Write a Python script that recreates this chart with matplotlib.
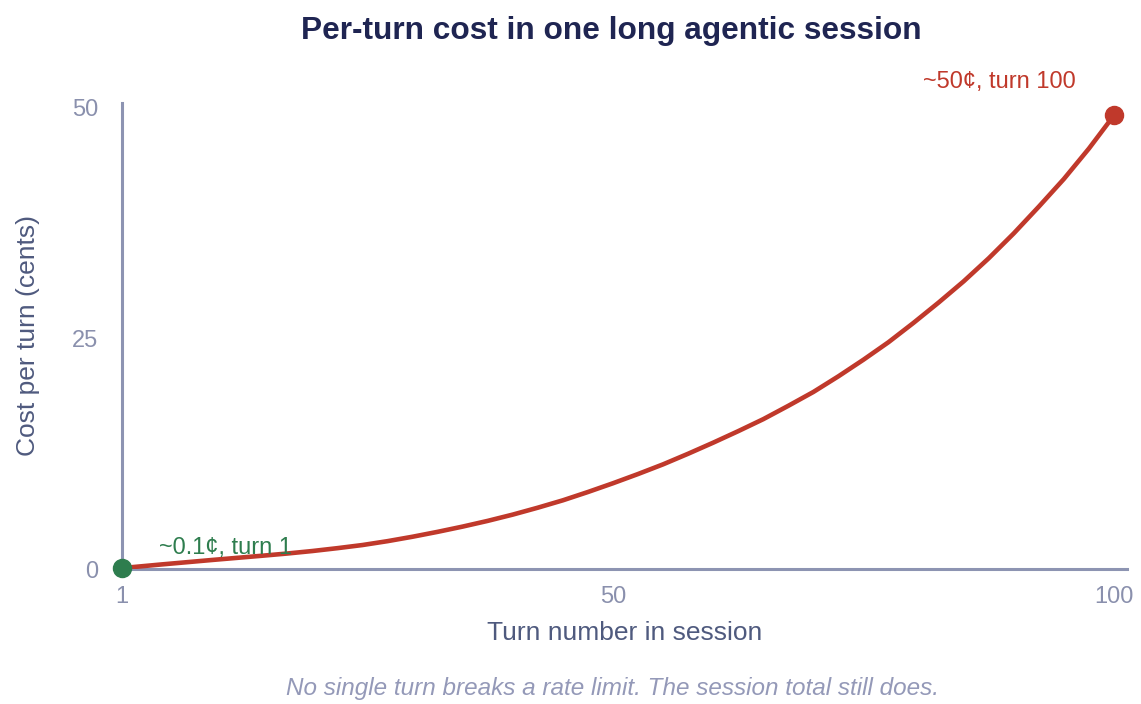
import matplotlib
matplotlib.use('Agg')
import matplotlib.pyplot as plt

plt.rcParams['font.family'] = ['Liberation Sans', 'DejaVu Sans']

# cost per turn in cents
turns = [1, 2.5, 5, 7.5, 10, 12.5, 15, 17.5, 20, 22.5, 25, 27.5, 30, 32.5, 35, 37.5, 40,
         42.5, 45, 47.5, 50, 52.5, 55, 57.5, 60, 62.5, 65, 67.5, 70, 72.5, 75, 77.5, 80,
         82.5, 85, 87.5, 90, 92.5, 95, 97.5, 100]
cost = [0.1, 0.25, 0.5, 0.74, 0.98, 1.21, 1.44, 1.68, 1.95, 2.26, 2.6, 3.02, 3.5, 4.03,
        4.6, 5.22, 5.9, 6.65, 7.45, 8.35, 9.3, 10.3, 11.35, 12.5, 13.7, 14.95, 16.25,
        17.7, 19.2, 20.9, 22.7, 24.6, 26.7, 28.9, 31.2, 33.7, 36.4, 39.3, 42.3, 45.6, 49.2]
x_ticks = [1, 50, 100]
y_ticks = [0, 25, 50]

RED = '#c0392b'
GREEN = '#2e7d4e'
AXIS = '#8d94b2'
TICK = '#8a90ad'
LABEL = '#4f5a7e'

W, H = 1141, 704
fig = plt.figure(figsize=(W / 100, H / 100), dpi=100)
ax = fig.add_axes([122 / W, 1 - 569 / H, 1005 / W, 466 / H])

ax.plot(turns, cost, color=RED, linewidth=3.3, solid_capstyle='round',
        solid_joinstyle='round', zorder=3)
ax.plot(turns[0], cost[0], 'o', color=GREEN, markersize=13, clip_on=False, zorder=4)
ax.plot(turns[-1], cost[-1], 'o', color=RED, markersize=13, clip_on=False, zorder=4)

ax.annotate('~0.1¢, turn 1', (turns[0], cost[0]), xytext=(26.6, 14.4),
            textcoords='offset points', ha='left', va='center', fontsize=17, color=GREEN)
ax.annotate('~50¢, turn 100', (turns[-1], cost[-1]), xytext=(-27.4, 23.8),
            textcoords='offset points', ha='right', va='center', fontsize=17, color=RED)

ax.set_xlim(1, 101.3)
ax.set_ylim(0, 50.54)
ax.set_xticks(x_ticks)
ax.set_yticks(y_ticks)
ax.tick_params(length=0, labelsize=17, labelcolor=TICK)
ax.tick_params(axis='x', pad=12)
ax.tick_params(axis='y', pad=17)

for side in ['top', 'right']:
    ax.spines[side].set_visible(False)
for side in ['left', 'bottom']:
    ax.spines[side].set_color(AXIS)
    ax.spines[side].set_linewidth(2.2)

fig.text(624.5 / W, 1 - 633 / H, 'Turn number in session', ha='center', va='center',
         fontsize=19, color=LABEL)
fig.text(28 / W, 1 - 336 / H, 'Cost per turn (cents)', ha='center', va='center',
         rotation=90, fontsize=19, color=LABEL)
fig.text(611 / W, 1 - 31 / H, 'Per-turn cost in one long agentic session', ha='center',
         va='center', fontsize=22.8, fontweight='bold', color='#1f2552')
fig.text(613 / W, 1 - 689 / H,
         'No single turn breaks a rate limit. The session total still does.',
         ha='center', va='center', fontsize=17.5, style='italic', color='#9499b8')

fig.savefig('out.png', dpi=100)
